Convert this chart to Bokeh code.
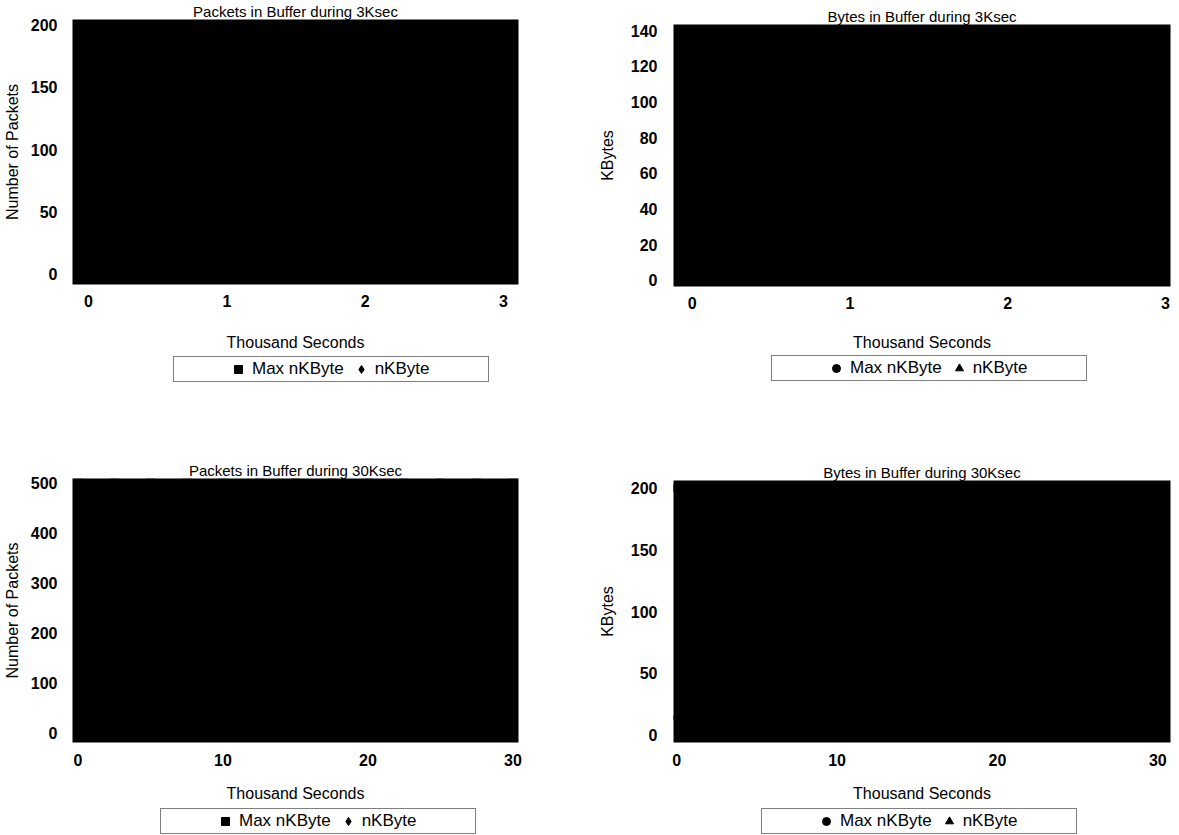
from bokeh.plotting import figure
from bokeh.layouts import column, row
from bokeh.models import FixedTicker, Legend, LegendItem, Range1d
from bokeh.embed import file_html
from bokeh.resources import INLINE

FONT = "Liberation Sans"
NBSP = "\u00a0"

# ---------------- data ----------------
# The scanned plot areas are completely saturated (black): the samples fill
# the whole area up to the maximum level of each panel.
t_3k = [0.0, 0.25, 0.5, 0.75, 1.0, 1.25, 1.5, 1.75, 2.0, 2.25, 2.5, 2.75, 3.0]
pkts_max_3k = [200, 200, 200, 200, 200, 200, 200, 200, 200, 200, 200, 200, 200]
pkts_3k = [12, 140, 65, 190, 30, 175, 95, 160, 20, 185, 110, 150, 45]
kb_max_3k = [140, 140, 140, 140, 140, 140, 140, 140, 140, 140, 140, 140, 140]
kb_3k = [10, 100, 45, 130, 25, 120, 70, 115, 15, 135, 80, 105, 35]

t_30k = [0, 2.5, 5, 7.5, 10, 12.5, 15, 17.5, 20, 22.5, 25, 27.5, 30]
pkts_max_30k = [500, 500, 500, 500, 500, 500, 500, 500, 500, 500, 500, 500, 500]
pkts_30k = [30, 350, 160, 470, 80, 420, 240, 390, 50, 460, 280, 370, 110]
kb_max_30k = [200, 200, 200, 200, 200, 200, 200, 200, 200, 200, 200, 200, 200]
kb_30k = [15, 140, 65, 190, 30, 170, 95, 155, 20, 185, 110, 150, 45]

x_ticks_3k = [0, 1, 2, 3]
x_ticks_30k = [0, 10, 20, 30]
y_ticks_pkts_3k = [0, 50, 100, 150, 200]
y_ticks_kb_3k = [0, 20, 40, 60, 80, 100, 120, 140]
y_ticks_pkts_30k = [0, 100, 200, 300, 400, 500]
y_ticks_kb_30k = [0, 50, 100, 150, 200]

series_labels = ["Max nKByte", "nKByte"]
x_label = "Thousand Seconds"

MARKER_SIZE = {"square": 9, "diamond": 13, "circle": 9, "triangle": 9}


def make_plot(title, ylabel, t, y_max, y_cur, x_rng, y_rng, x_ticks, y_ticks,
              markers, width, height, borders, x_std, y_std):
    bl, br, bt, bb = borders
    p = figure(width=width, height=height, output_backend="svg",
               toolbar_location=None, title=title,
               x_range=Range1d(*x_rng), y_range=Range1d(*y_rng),
               background_fill_color="black", border_fill_color="white",
               outline_line_color=None,
               min_border_left=bl, min_border_right=br,
               min_border_top=bt, min_border_bottom=bb)
    p.title.text_font = FONT
    p.title.text_font_size = "15px"
    p.title.text_font_style = "normal"
    p.title.text_color = "black"
    p.title.align = "center"
    p.title.standoff = 0
    p.xgrid.visible = False
    p.ygrid.visible = False

    p.xaxis.ticker = FixedTicker(ticks=x_ticks)
    p.yaxis.ticker = FixedTicker(ticks=y_ticks)
    p.xaxis.axis_label = x_label
    p.yaxis.axis_label = ylabel
    for ax in (p.xaxis[0], p.yaxis[0]):
        ax.axis_line_color = None
        ax.major_tick_line_color = None
        ax.minor_tick_line_color = None
        ax.major_label_text_font = FONT
        ax.major_label_text_font_size = "16px"
        ax.major_label_text_font_style = "bold"
        ax.major_label_text_color = "black"
        ax.axis_label_text_font = FONT
        ax.axis_label_text_font_size = "16px"
        ax.axis_label_text_font_style = "normal"
        ax.axis_label_text_color = "black"
    p.xaxis.major_label_standoff = x_std[0]
    p.xaxis.axis_label_standoff = x_std[1]
    p.yaxis.major_label_standoff = y_std[0]
    p.yaxis.axis_label_standoff = y_std[1]
    p.yaxis.major_label_orientation = "horizontal"

    p.scatter(t, y_max, marker=markers[0], size=MARKER_SIZE[markers[0]],
              color="black")
    p.scatter(t, y_cur, marker=markers[1], size=MARKER_SIZE[markers[1]],
              color="black")
    return p


def make_legend(t, y_max, y_cur, markers, width, height, box_left, box_top,
                nb_left, nb_right):
    # a strip under each chart that only carries the legend box; its frame is
    # aligned with the chart's frame by the column layout
    box_h = 26
    lf = figure(width=width, height=height, output_backend="svg",
                toolbar_location=None, x_axis_location=None,
                y_axis_location=None, outline_line_color=None,
                background_fill_color="white", border_fill_color="white",
                x_range=Range1d(-1000, -999), y_range=Range1d(-1000, -999),
                min_border_left=0, min_border_right=0,
                min_border_top=0, min_border_bottom=0)
    lf.xgrid.visible = False
    lf.ygrid.visible = False
    dummy = lf.scatter(t, y_max, marker=markers[0], size=8,
                       fill_alpha=0, line_alpha=0)
    g_max = lf.scatter(t, y_max, marker=markers[0],
                       size=MARKER_SIZE[markers[0]], color="black")
    g_cur = lf.scatter(t, y_cur, marker=markers[1],
                       size=MARKER_SIZE[markers[1]], color="black")
    leg = Legend(items=[
        LegendItem(label=NBSP * nb_left, renderers=[dummy]),
        LegendItem(label=series_labels[0], renderers=[g_max]),
        LegendItem(label=series_labels[1] + NBSP * nb_right, renderers=[g_cur]),
    ], location=(box_left, height - box_top - box_h), orientation="horizontal",
        padding=2, spacing=6, glyph_width=22, glyph_height=20,
        label_height=16, label_standoff=3, margin=0,
        border_line_color="black", border_line_width=1,
        background_fill_color="white", background_fill_alpha=1,
        label_text_font=FONT, label_text_font_size="17px",
        label_text_color="black")
    lf.add_layout(leg)
    return lf


p1 = make_plot("Packets in Buffer during 3Ksec", "Number of Packets",
               t_3k, pkts_max_3k, pkts_3k, (-0.116, 3.108), (-8.8, 204.8),
               x_ticks_3k, y_ticks_pkts_3k, ["square", "diamond"],
               595, 354, (72, 77, 18, 70), (4, 24), (9, 7))
l1 = make_legend(t_3k, pkts_max_3k, pkts_3k, ["square", "diamond"],
                 595, 86, 101, 2, 4, 12)

p2 = make_plot("Bytes in Buffer during 3Ksec", "KBytes",
               t_3k, kb_max_3k, kb_3k, (-0.118, 3.032), (-3.4, 143.4),
               x_ticks_3k, y_ticks_kb_3k, ["circle", "triangle"],
               584, 354, (77, 9, 24, 68), (4, 22), (10, 12))
l2 = make_legend(t_3k, kb_max_3k, kb_3k, ["circle", "triangle"],
                 584, 86, 98, 1, 4, 12)

p3 = make_plot("Packets in Buffer during 30Ksec", "Number of Packets",
               t_30k, pkts_max_30k, pkts_30k, (-0.38, 30.38), (-20, 510),
               x_ticks_30k, y_ticks_pkts_30k, ["square", "diamond"],
               595, 365, (72, 77, 38, 63), (5, 16), (9, 7))
l3 = make_legend(t_30k, pkts_max_30k, pkts_30k, ["square", "diamond"],
                 595, 30, 88, 3, 4, 12)

p4 = make_plot("Bytes in Buffer during 30Ksec", "KBytes",
               t_30k, kb_max_30k, kb_30k, (-0.2, 30.79), (-6.3, 206.3),
               x_ticks_30k, y_ticks_kb_30k, ["circle", "triangle"],
               584, 365, (77, 9, 40, 63), (5, 16), (10, 12))
l4 = make_legend(t_30k, kb_max_30k, kb_30k, ["circle", "triangle"],
                 584, 30, 88, 3, 4, 12)

layout = column(row(column(p1, l1), column(p2, l2)),
                row(column(p3, l3), column(p4, l4)))
open("out.html", "w").write(file_html(layout, INLINE))
